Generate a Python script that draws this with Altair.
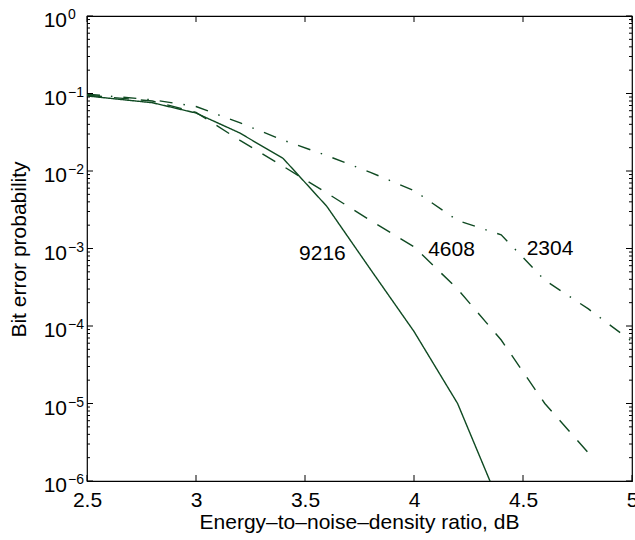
import altair as alt
import pandas as pd

# ---- data ----
snr = [2.5, 2.8, 3.0, 3.2, 3.4, 3.6, 3.8, 4.0, 4.2, 4.4, 4.6, 4.8, 5.0]
ber_9216 = [0.093, 0.076, 0.056, 0.031, 0.0145, 0.0035, 5.4e-4, 8.5e-5, 1.0e-5, 4.5e-7, None, None, None]
ber_4608 = [0.095, 0.080, 0.057, 0.025, 0.0115, 0.0052, 0.0023, 1.05e-3, 3.0e-4, 6.6e-5, 1.0e-5, 2.3e-6, None]
ber_2304 = [0.098, 0.083, 0.068, 0.042, 0.025, 0.0158, 0.0096, 0.0056, 0.0023, 0.0015, 3.9e-4, 1.66e-4, 6.3e-5]

label_text = ["9216", "4608", "2304"]
label_x = [3.58, 4.172, 4.624]
label_y = [8.5e-4, 9.6e-4, 1.0e-3]

x_ticks = [2.5, 3.0, 3.5, 4.0, 4.5, 5.0]
y_exponents = [0, -1, -2, -3, -4, -5, -6]
y_minor = [k * 10.0 ** e for e in range(-6, 0) for k in range(2, 10)]

LINE = "#0f4a22"
FONT = "Liberation Sans"
W, H = 545, 465

def series_df(vals):
    return pd.DataFrame({"x": [a for a, b in zip(snr, vals) if b is not None],
                         "y": [b for b in vals if b is not None]})

xs = alt.Scale(domain=[2.5, 5], nice=False)
ys = alt.Scale(type="log", domain=[1e-6, 1], nice=False)

x_axis = alt.Axis(values=x_ticks, format="~g", ticks=False, domain=False, grid=False,
                  labelFlush=False, labelOverlap=False, labelBound=False,
                  labelFont=FONT, labelFontSize=21, labelColor="black", labelPadding=8,
                  title="Energy–to–noise–density ratio, dB", titleFont=FONT, titleFontSize=21,
                  titleFontWeight="normal", titleColor="black", titleX=272, titleY=41,
                  titleBaseline="middle")
y_axis = alt.Axis(labels=False, ticks=False, domain=False, grid=False,
                  title="Bit error probability", titleFont=FONT, titleFontSize=21,
                  titleFontWeight="normal", titleColor="black", titleAngle=270,
                  titleX=-68, titleY=233, titleBaseline="middle", titleAlign="center")

def X(f):
    return alt.X(f, scale=xs, axis=x_axis)

def Y(f):
    return alt.Y(f, scale=ys, axis=y_axis)

def line(vals, dash):
    return alt.Chart(series_df(vals)).mark_line(
        color=LINE, strokeWidth=1.4, strokeDash=dash, clip=True
    ).encode(x=X("x:Q"), y=Y("y:Q"))

l1 = line(ber_9216, [1, 0])
l2 = line(ber_4608, [15, 12])
l3 = line(ber_2304, [13, 11, 1.5, 11])

labels = alt.Chart(pd.DataFrame({"t": label_text, "x": label_x, "y": label_y})).mark_text(
    font=FONT, fontSize=21, color="black", baseline="middle", align="center"
).encode(x=X("x:Q"), y=Y("y:Q"), text="t:N")

# y tick labels 10^e
ylab = pd.DataFrame({"v": [10.0 ** e for e in y_exponents],
                     "exp": [str(e).replace("-", "\u2212") for e in y_exponents],
                     "base": ["10"] * len(y_exponents)})
ybase = alt.Chart(ylab).mark_text(font=FONT, fontSize=21, color="black", align="right",
                                  baseline="alphabetic", dy=11).encode(
    x=alt.value(-20), y=Y("v:Q"), text="base:N")
yexp = alt.Chart(ylab).mark_text(font=FONT, fontSize=14, color="black", align="left",
                                 baseline="alphabetic", dy=3).encode(
    x=alt.value(-19), y=Y("v:Q"), text="exp:N")

# inward tick marks (MATLAB style)
major_y = pd.DataFrame({"v": [10.0 ** e for e in y_exponents]})
minor_y = pd.DataFrame({"v": y_minor})
major_x = pd.DataFrame({"v": x_ticks})

def ytick(df, x0, x1):
    return alt.Chart(df).mark_rule(color="black", strokeWidth=1).encode(
        y=Y("v:Q"), x=alt.value(x0), x2=alt.value(x1))

def xtick(df, y0, y1):
    return alt.Chart(df).mark_rule(color="black", strokeWidth=1).encode(
        x=X("v:Q"), y=alt.value(y0), y2=alt.value(y1))

ticks = [
    ytick(major_y, 0, 6), ytick(major_y, W - 6, W),
    ytick(minor_y, 0, 3), ytick(minor_y, W - 3, W),
    xtick(major_x, H - 6, H), xtick(major_x, 0, 6),
]

chart = alt.layer(l1, l2, l3, labels, ybase, yexp, *ticks).properties(
    width=W, height=H,
    autosize=alt.AutoSizeParams(type="none"),
    padding={"left": 87, "top": 16, "right": 3, "bottom": 59},
    background="white",
).configure_view(stroke="black", strokeWidth=1.2)

chart.save("out.html", embed_options={"renderer": "svg", "actions": False})
